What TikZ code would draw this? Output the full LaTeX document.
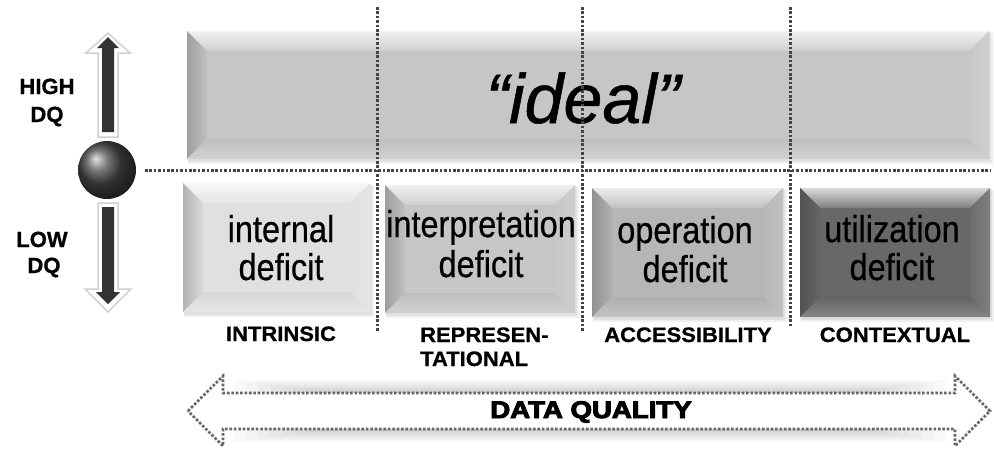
\documentclass[tikz,border=0pt]{standalone}
\usepackage{fontspec}
\setmainfont{Liberation Sans}
\newfontfamily\heavyfont[FakeBold=4]{Liberation Sans Bold}
\newfontfamily\medfont[FakeBold=0.7]{Liberation Sans}
\newfontfamily\meditfont[FakeBold=0.7]{Liberation Sans Italic}
\newfontfamily\boldfont[FakeBold=0.8]{Liberation Sans Bold}
\usepackage{graphicx}
\definecolor{dotc}{HTML}{444444}
\definecolor{idealc}{HTML}{C6C6C6}
\definecolor{c1}{HTML}{E0E0E0}
\definecolor{c2}{HTML}{C6C6C6}
\definecolor{c3}{HTML}{B6B6B6}
\definecolor{c4}{HTML}{686868}
\definecolor{darkarr}{HTML}{333333}
\newcommand\bevbox[6]{%
  \fill[black, opacity=0.06] (#1+1,#2+2) rectangle (#3+4,#4+5);
  \fill[black, opacity=0.06] (#1+1,#2+1) rectangle (#3+2,#4+3);
  \fill[#5] (#1,#2) rectangle (#3,#4);
  \shade[top color=#5!25!white, bottom color=#5!85!white]
    (#1,#2) -- (#3,#2) -- (#3-#6,#2+#6) -- (#1+#6,#2+#6) -- cycle;
  \shade[left color=#5!80!black, right color=#5!97!black]
    (#1,#2) -- (#1+#6,#2+#6) -- (#1+#6,#4-#6) -- (#1,#4) -- cycle;
  \shade[left color=#5!97!white, right color=#5!85!white]
    (#3,#2) -- (#3-#6,#2+#6) -- (#3-#6,#4-#6) -- (#3,#4) -- cycle;
  \shade[top color=#5!96!black, bottom color=#5!80!white]
    (#1,#4) -- (#1+#6,#4-#6) -- (#3-#6,#4-#6) -- (#3,#4) -- cycle;
}
\tikzset{
  dotline/.style={draw=dotc, line width=3pt, dash pattern=on 2.6pt off 1.8pt},
  deftext/.style={anchor=base, inner sep=0pt, font=\medfont\fontsize{32.5}{38}\selectfont},
  cattext/.style={inner sep=0pt, font=\boldfont\fontsize{22}{24}\selectfont},
  sidetext/.style={anchor=base, inner sep=0pt, font=\boldfont\fontsize{22}{24}\selectfont},
}
\newcommand\ys[1]{\scalebox{1}[1.15]{#1}}
\newcommand\yc[1]{\scalebox{1}[0.95]{#1}}
\begin{document}
\begin{tikzpicture}[x=1pt, y=-1pt]
\useasboundingbox (0,0) rectangle (994,448);
\fill[white] (0,0) rectangle (994,448);

% ideal box
\bevbox{187}{31}{989}{159}{idealc}{20}
\node[anchor=base, inner sep=0pt, font=\meditfont\fontsize{70}{80}\selectfont] (ideal) at (583,123) {“ideal”};

% deficit boxes
\bevbox{183}{183}{370}{312}{c1}{20}
\bevbox{385}{185}{575}{313}{c2}{20}
\bevbox{592}{188}{783}{317}{c3}{20}
\bevbox{800}{188}{990}{317}{c4}{20}

\node[deftext] (t1a) at (281,242) {\ys{internal}};
\node[deftext] (t1b) at (281,280) {\ys{deficit}};
\node[deftext] (t2a) at (481,237) {\ys{interpretation}};
\node[deftext] (t2b) at (481,277) {\ys{deficit}};
\node[deftext] (t3a) at (685,243) {\ys{operation}};
\node[deftext] (t3b) at (685,282) {\ys{deficit}};
\node[deftext] (t4a) at (892,242) {\ys{utilization}};
\node[deftext] (t4b) at (892,280) {\ys{deficit}};

% category labels
\node[cattext, anchor=base] (intr) at (281,341) {\yc{INTRINSIC}};
\node[cattext, anchor=base west] (repr1) at (420,342) {\yc{REPRESEN-}};
\node[cattext, anchor=base west] (repr2) at (420,366) {\yc{TATIONAL}};
\node[cattext, anchor=base] (acc) at (688,342) {\yc{ACCESSIBILITY}};
\node[cattext, anchor=base] (cont) at (895,342) {\yc{CONTEXTUAL}};

% dotted grid lines
\draw[dotline] (145,170) -- (990,170);
\draw[dotline] (377,7) -- (377,332);
\draw[dotline] (582,7) -- (582,332);
\draw[dotline] (790,7) -- (790,328);

% left side: sphere and arrows
\shade[ball color=black!72] (107,170) circle (29);
\node[circle, minimum size=58pt, inner sep=0pt] (ball) at (107,170) {};
\filldraw[fill=white, draw=black!18, line width=1.5pt]
  (108,33) -- (130,53) -- (118,53) -- (118,137) -- (98,137) -- (98,53) -- (86,53) -- cycle;
\fill[darkarr] (108,37) -- (119,48) -- (114,48) -- (114,132) -- (102,132) -- (102,48) -- (97,48) -- cycle;
\filldraw[fill=white, draw=black!18, line width=1.5pt]
  (98,203) -- (118,203) -- (118,289) -- (131,289) -- (108,312) -- (85,289) -- (98,289) -- cycle;
\fill[darkarr] (102,207) -- (114,207) -- (114,292) -- (120,292) -- (108,304) -- (96,292) -- (102,292) -- cycle;
\node[sidetext] (high) at (47,94) {HIGH};
\node[sidetext] (hdq) at (47,122) {DQ};
\node[sidetext] (low) at (42,247) {LOW};
\node[sidetext] (ldq) at (44,273) {DQ};

% data quality double arrow
\foreach \i in {1,...,8}{
  \fill[black, opacity=0.025] (330-\i*12,393-\i*1.6) rectangle (850+\i*12,429+\i*1.6);
}
\fill[white] (223,393) rectangle (955,429);
\draw[dotline, draw=black!60, line width=2.6pt]
  (188,411) -- (223,376) -- (223,393) -- (955,393) -- (955,376) -- (990,411)
  -- (955,446) -- (955,429) -- (223,429) -- (223,446) -- cycle;
\node[anchor=base, inner sep=0pt, font=\heavyfont\fontsize{24}{25}\selectfont] (dq) at (591,418) {\scalebox{1.15}[1]{DATA QUALITY}};
\end{tikzpicture}
\end{document}
